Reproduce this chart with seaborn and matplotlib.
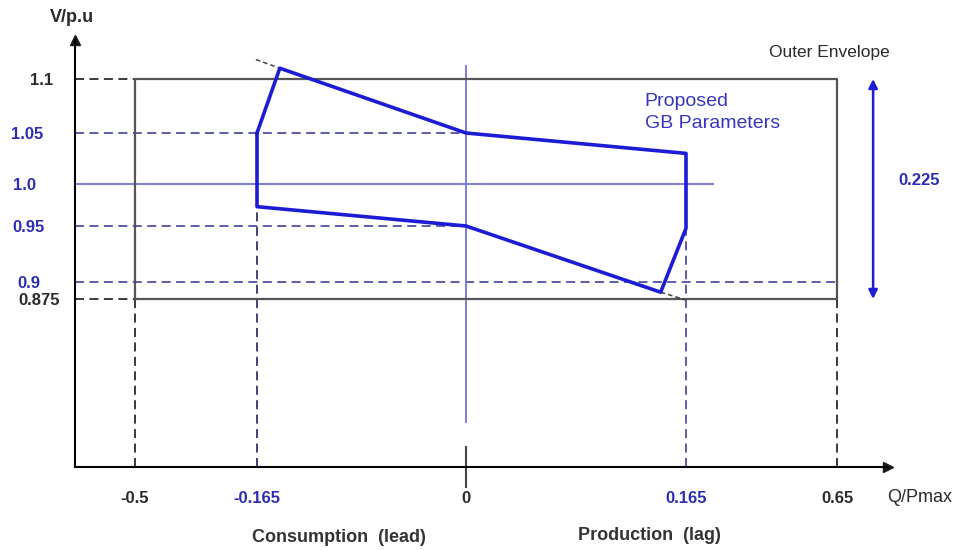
import numpy as np
import matplotlib
matplotlib.use("Agg")
import matplotlib.pyplot as plt
import seaborn as sns

# axis reference levels
q_ticks = [-0.5, -0.165, 0, 0.165, 0.65]
q_labels = ["-0.5", "-0.165", "0", "0.165", "0.65"]
v_ticks = [0.875, 0.9, 0.95, 1.0, 1.05, 1.1]
v_labels = ["0.875", "0.9", "0.95", "1.0", "1.05", "1.1"]

# outer envelope corners
env_q = [-0.5, 0.65]
env_v = [0.875, 1.1]

# proposed GB parameters (closed outline)
gb_q = [-0.165, -0.147, 0, 0.165, 0.165, 0.146, 0, -0.165, -0.165]
gb_v = [1.05, 1.11, 1.05, 1.03, 0.948, 0.885, 0.95, 0.973, 1.05]

# dashed continuations of the sloped edges
ext_top_q = [-0.168, -0.147]
ext_top_v = [1.118, 1.11]
ext_bot_q = [0.146, 0.165]
ext_bot_v = [0.885, 0.8735]

# the diagram is not drawn to scale: pixel spacing of the reference levels
q_px = [135, 257, 466, 686, 837]
v_px = [-299, -282, -226, -184, -133, -79]


def map_pw(v, src, dst):
    v = np.asarray(v, float)
    src = np.asarray(src, float)
    dst = np.asarray(dst, float)
    out = np.interp(v, src, dst)
    lo = (dst[1] - dst[0]) / (src[1] - src[0])
    hi = (dst[-1] - dst[-2]) / (src[-1] - src[-2])
    out = np.where(v < src[0], dst[0] + (v - src[0]) * lo, out)
    out = np.where(v > src[-1], dst[-1] + (v - src[-1]) * hi, out)
    return out


def q_fwd(v):
    return map_pw(v, q_ticks, q_px)


def q_inv(p):
    return map_pw(p, q_px, q_ticks)


def v_fwd(v):
    return map_pw(v, v_ticks, v_px)


def v_inv(p):
    return map_pw(p, v_px, v_ticks)


sns.set_theme(style="white")
plt.rcParams['font.family'] = ['Liberation Sans', 'DejaVu Sans']

BLUE = "#1c1cd4"
LIGHT_BLUE = "#7373d2"
DASH_BLUE = "#4f4fa6"
LABEL_BLUE = "#2c2cb4"
DARK = "#2a2a2a"

W, H = 957, 550
left, right, top, bottom = 75, 888, 40, 467
fig = plt.figure(figsize=(W / 100, H / 100), dpi=100)
ax = fig.add_axes([left / W, 1 - bottom / H, (right - left) / W, (bottom - top) / H])
ax.set_xscale("function", functions=(q_fwd, q_inv))
ax.set_yscale("function", functions=(v_fwd, v_inv))
x0, x1 = float(q_inv(left)), float(q_inv(right))
y0, y1 = float(v_inv(-bottom)), float(v_inv(-top))
ax.set_xlim(x0, x1)
ax.set_ylim(y0, y1)

dash = (0, (5, 3))

# guide lines
ax.hlines([env_v[1], env_v[0]], x0, env_q[0], colors=DARK, linestyles=dash, lw=1.3)
ax.hlines([1.05, 0.95], x0, 0, colors=DASH_BLUE, linestyles=dash, lw=1.3)
ax.hlines(0.9, x0, env_q[1], colors=DASH_BLUE, linestyles=dash, lw=1.3)
ax.hlines(1.0, x0, float(q_inv(714)), colors=LIGHT_BLUE, lw=1.3)
ax.vlines(env_q, y0, env_v[0], colors=DARK, linestyles=dash, lw=1.3)
ax.vlines(-0.165, y0, gb_v[7], colors="#33336a", linestyles=dash, lw=1.3)
ax.vlines(0.165, y0, gb_v[4], colors=DASH_BLUE, linestyles=dash, lw=1.3)
ax.vlines(0, float(v_inv(-423)), float(v_inv(-65)), colors=LIGHT_BLUE, lw=1.3)

# outer envelope
ax.plot([env_q[0], env_q[1], env_q[1], env_q[0], env_q[0]],
        [env_v[0], env_v[0], env_v[1], env_v[1], env_v[0]],
        color="#555555", lw=1.6)

# extensions of sloped edges
ax.plot(ext_top_q, ext_top_v, color="#444444", lw=1.1, ls=(0, (3, 2)))
ax.plot(ext_bot_q, ext_bot_v, color="#444444", lw=1.1, ls=(0, (3, 2)))

# proposed GB parameter outline
sns.lineplot(x=gb_q, y=gb_v, sort=False, estimator=None, color=BLUE, lw=2.6, ax=ax)

# 0.225 span arrow
arrow_q = 0.766
ax.annotate("", xy=(arrow_q, env_v[1]), xytext=(arrow_q, env_v[0]),
            arrowprops=dict(arrowstyle="<|-|>", color=BLUE, lw=1.8, mutation_scale=13,
                            shrinkA=0, shrinkB=0))
ax.text(0.914, 1.003, f"{env_v[1] - env_v[0]:.3f}", color=LABEL_BLUE, fontsize=12,
        fontweight="bold", ha="center", va="center")

ax.text(0.627, 1.125, "Outer Envelope", color=DARK, fontsize=12.5, ha="center", va="center")
ax.text(0.134, 1.069, "Proposed\nGB Parameters", color="#3535c0", fontsize=14,
        ha="left", va="center", linespacing=1.4)

# axes with arrowheads
sns.despine(ax=ax)
for side in ["left", "bottom"]:
    ax.spines[side].set_color("black")
    ax.spines[side].set_linewidth(1.5)
ax.plot(1, 0, ">k", transform=ax.transAxes, clip_on=False, markersize=7)
ax.plot(0, 1, "^k", transform=ax.transAxes, clip_on=False, markersize=7)
ax.grid(False)

# ticks
ax.xaxis.remove_overlapping_locs = False
ax.set_xticks(q_ticks, q_labels)
ax.set_yticks(v_ticks, v_labels)
ax.set_xticks([0], minor=True)
ax.tick_params(axis="x", which="major", bottom=True, length=0, pad=17, labelsize=12)
ax.tick_params(axis="x", which="minor", bottom=True, length=30, width=1.5,
               direction="inout", color="#444444")
ax.tick_params(axis="y", which="major", length=0, pad=0, labelsize=12)
ax.yaxis.set_minor_locator(matplotlib.ticker.NullLocator())

x_colors = [DARK, LABEL_BLUE, DARK, LABEL_BLUE, DARK]
for lbl, c in zip(ax.get_xticklabels(), x_colors):
    lbl.set_color(c)
    lbl.set_fontweight("bold")

y_colors = [DARK, LABEL_BLUE, LABEL_BLUE, LABEL_BLUE, LABEL_BLUE, DARK]
y_right_px = [60, 40, 45, 36, 43, 53]
for lbl, c, rp in zip(ax.get_yticklabels(), y_colors, y_right_px):
    lbl.set_color(c)
    lbl.set_fontweight("bold")
    lbl.set_x((rp - left) / (right - left))

# axis captions
fig.text(72 / W, 1 - 17 / H, "V/p.u", fontsize=13, fontweight="bold", color=DARK,
         ha="center", va="center")
fig.text(920 / W, 1 - 497 / H, "Q/Pmax", fontsize=13, color=DARK, ha="center", va="center")
fig.text(339 / W, 1 - 538 / H, "Consumption  (lead)", fontsize=13, fontweight="bold",
         color="#333333", ha="center", va="center")
fig.text(649 / W, 1 - 535 / H, "Production  (lag)", fontsize=13, fontweight="bold",
         color="#333333", ha="center", va="center")

fig.savefig("out.png", dpi=100, facecolor="white")
